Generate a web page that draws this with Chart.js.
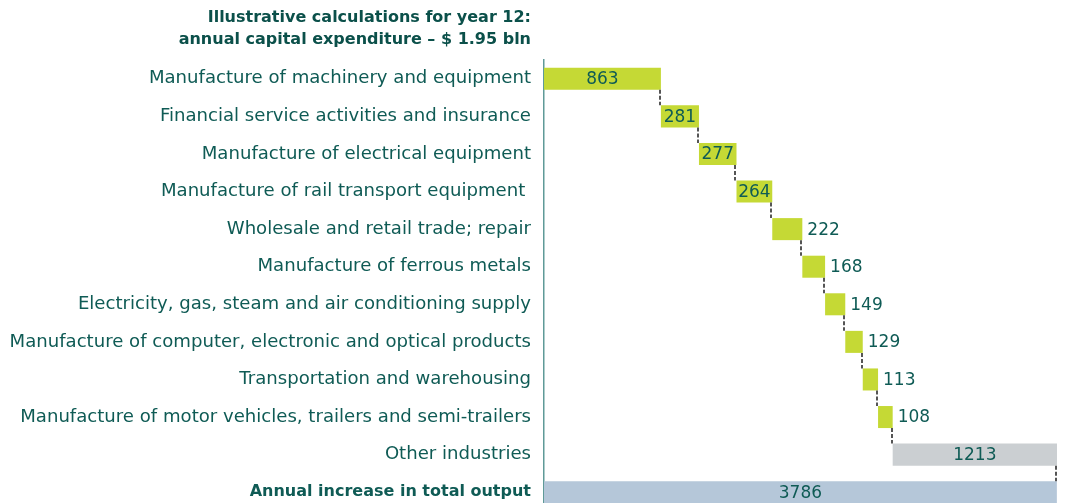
<!DOCTYPE html>
<html>
<head>
<meta charset="utf-8">
<script src="https://cdn.jsdelivr.net/npm/chart.js@4.4.1/dist/chart.umd.min.js"></script>
<style>
  html, body { margin: 0; padding: 0; background: #ffffff; overflow: hidden; }
  canvas { display: block; }
</style>
</head>
<body>
<canvas id="chart" width="1065" height="511"></canvas>
<script>
// Industry contributions to the annual increase in total output
const categories = [
  "Manufacture of machinery and equipment",
  "Financial service activities and insurance",
  "Manufacture of electrical equipment",
  "Manufacture of rail transport equipment ",
  "Wholesale and retail trade; repair",
  "Manufacture of ferrous metals",
  "Electricity, gas, steam and air conditioning supply",
  "Manufacture of computer, electronic and optical products",
  "Transportation and warehousing",
  "Manufacture of motor vehicles, trailers and semi-trailers",
  "Other industries",
  "Annual increase in total output"
];
const industryValues = [863, 281, 277, 264, 222, 168, 149, 129, 113, 108];
const otherValue = 1213;
const totalValue = 3786;
const titleLines = [
  "Illustrative calculations for year 12:",
  "annual capital expenditure \u2013 $ 1.95 bln"
];

const GREEN = "#c5d935";
const GREY = "#cbcfd2";
const BLUE = "#b5c7d9";
const TEXT = "#0f5b55";
const FONT = "DejaVu Sans";

// Build floating [start, end] ranges for the waterfall
const steps = industryValues.concat([otherValue]);
const ranges = [];
const shownValues = [];
let running = 0;
steps.forEach(v => {
  ranges.push([running, running + v]);
  shownValues.push(v);
  running += v;
});
ranges.push([0, totalValue]);
shownValues.push(totalValue);
const barColors = industryValues.map(() => GREEN).concat([GREY, BLUE]);

// Title block, right-aligned against the category labels
const titlePlugin = {
  id: "titleBlock",
  afterDraw(chart) {
    const ctx = chart.ctx;
    const x = chart.scales.y.right - 13;
    ctx.save();
    ctx.fillStyle = "#0b504a";
    ctx.font = "bold 16px '" + FONT + "'";
    ctx.textAlign = "right";
    ctx.textBaseline = "middle";
    ctx.fillText(titleLines[0], x, 18);
    ctx.fillText(titleLines[1], x, 40);
    ctx.restore();
  }
};

// Dashed connectors between successive bars
const connectorPlugin = {
  id: "connectors",
  afterDatasetsDraw(chart) {
    const ctx = chart.ctx;
    const meta = chart.getDatasetMeta(0);
    ctx.save();
    ctx.strokeStyle = "#555555";
    ctx.lineWidth = 2;
    ctx.setLineDash([4, 2]);
    for (let i = 0; i < meta.data.length - 1; i++) {
      const a = meta.data[i];
      const b = meta.data[i + 1];
      const x = Math.round(a.x) - 1;
      ctx.beginPath();
      ctx.moveTo(x, a.y + a.height / 2);
      ctx.lineTo(x, b.y - b.height / 2);
      ctx.stroke();
    }
    ctx.restore();
  }
};

// Value labels: inside wide bars, to the right of narrow ones
const valueLabelPlugin = {
  id: "valueLabels",
  afterDatasetsDraw(chart) {
    const ctx = chart.ctx;
    const meta = chart.getDatasetMeta(0);
    ctx.save();
    ctx.fillStyle = TEXT;
    ctx.font = "17px '" + FONT + "'";
    ctx.textBaseline = "middle";
    meta.data.forEach((bar, i) => {
      const text = String(shownValues[i]);
      const left = Math.min(bar.x, bar.base);
      const right = Math.max(bar.x, bar.base);
      if (right - left >= 34) {
        ctx.textAlign = "center";
        ctx.fillText(text, (left + right) / 2, bar.y + 1);
      } else {
        ctx.textAlign = "left";
        ctx.fillText(text, right + 5, bar.y + 1);
      }
    });
    ctx.restore();
  }
};

new Chart(document.getElementById("chart"), {
  type: "bar",
  data: {
    labels: categories,
    datasets: [{
      data: ranges,
      backgroundColor: barColors,
      borderWidth: 0,
      borderSkipped: false,
      barPercentage: 0.586,
      categoryPercentage: 1.0
    }]
  },
  options: {
    indexAxis: "y",
    responsive: false,
    animation: false,
    layout: { padding: { top: 60, right: 8, bottom: 0, left: 0 } },
    plugins: {
      legend: { display: false },
      tooltip: { enabled: false },
      title: { display: false }
    },
    scales: {
      x: {
        display: false,
        min: 0,
        max: Math.max(totalValue, running)
      },
      y: {
        grid: { display: false, drawTicks: false },
        border: { display: true, color: "#5f9a98", width: 1.5 },
        afterFit(scale) {
          scale.width = 544;
          scale.paddingTop = 0;
          scale.paddingBottom = 0;
        },
        ticks: {
          color: TEXT,
          padding: 13,
          font: (ctx) => {
            const isTotal = ctx.index === categories.length - 1;
            return {
              family: FONT,
              size: isTotal ? 16 : 18.1,
              weight: isTotal ? "bold" : "normal"
            };
          }
        }
      }
    }
  },
  plugins: [titlePlugin, connectorPlugin, valueLabelPlugin]
});
</script>
</body>
</html>
